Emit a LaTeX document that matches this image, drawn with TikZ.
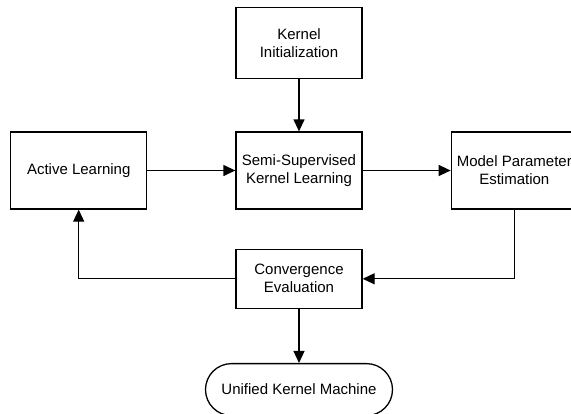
\documentclass[tikz,border=0pt]{standalone}
\usepackage{fontspec}
\setmainfont{Liberation Sans}
\usetikzlibrary{positioning,arrows.meta}

\begin{document}
\begin{tikzpicture}[x=1pt, y=1pt,
    box/.style={draw, rectangle, line width=1.3pt, minimum width=126pt, minimum height=77pt,
      inner sep=0pt, align=center, font=\fontsize{15}{18}\selectfont},
    arr/.style={-{Triangle[length=12pt, width=11pt]}, line width=1.3pt}]
  \useasboundingbox (0,0) rectangle (571,-413);

  \node (ssk) [box] at (299,-170.5) {Semi-Supervised\\Kernel Learning};
  \node (ki) [box, minimum height=71pt, above=52pt of ssk] {Kernel\\Initialization};
  \node (al) [box, minimum width=136pt, left=88pt of ssk] {Active Learning};
  \node (mpe) [box, right=88pt of ssk] {Model Parameter\\Estimation};
  \node (ce) [box, minimum height=59pt, below=39pt of ssk] {Convergence\\Evaluation};
  \node (ukm) [box, minimum width=187pt, minimum height=52pt, rounded corners=26pt, below=54pt of ce] {Unified Kernel Machine};

  \draw [arr] (ki) -- (ssk);
  \draw [arr] (al) -- (ssk);
  \draw [arr] (ssk) -- (mpe);
  \draw [arr] (mpe) |- (ce);
  \draw [arr] (ce) -| (al);
  \draw [arr] (ce) -- (ukm);
\end{tikzpicture}
\end{document}
